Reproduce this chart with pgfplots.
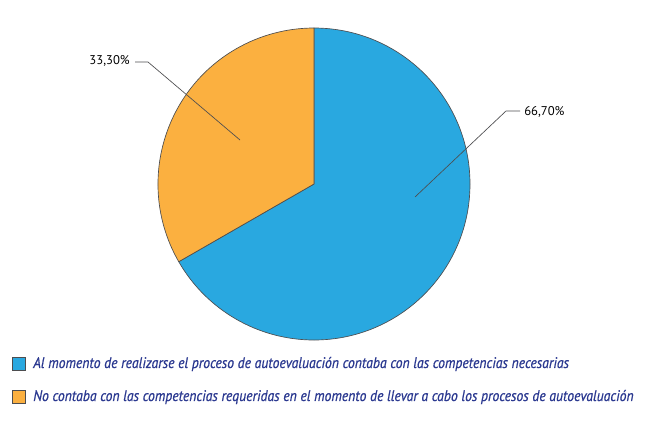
\documentclass[border=0pt]{standalone}
\usepackage{fontspec}
\setmainfont{PT Sans}
\newfontfamily\legfont[FakeStretch=0.893, FakeBold=0.7]{PT Sans}
\usepackage{pgfplots}
\pgfplotsset{compat=1.18}
\definecolor{pieblue}{HTML}{29A8E0}
\definecolor{pieorange}{HTML}{FBB040}
\definecolor{legnavy}{HTML}{2B3990}
\definecolor{edge}{HTML}{4D4D4F}

% slice values (percent)
\def\valA{66.7}
\def\valB{33.3}

\begin{document}
\begin{tikzpicture}[x=0.75pt,y=0.75pt]
\useasboundingbox (0,0) rectangle (653,430);
\coordinate (pc) at (314,246);
\begin{axis}[
  hide axis,
  scale only axis,
  width=234pt, height=234pt,
  xmin=-1, xmax=1, ymin=-1, ymax=1,
  anchor=center, at={(pc)},
  clip=false,
]
\pgfmathsetmacro{\aEnd}{90-3.6*\valA}
\pgfmathsetmacro{\bEnd}{\aEnd-3.6*\valB}
\filldraw[fill=pieblue, draw=edge, line width=0.5pt]
  (axis cs:0,0) -- (axis cs:0,1) arc[start angle=90, end angle=\aEnd, radius=117pt] -- cycle;
\filldraw[fill=pieorange, draw=edge, line width=0.5pt]
  (axis cs:0,0) -- (axis cs:{cos(\aEnd)},{sin(\aEnd)}) arc[start angle=\aEnd, end angle=\bEnd, radius=117pt] -- cycle;
\end{axis}

% leader lines and labels
\draw[edge, line width=0.5pt] (415,233) -- (506,319) -- (520,319);
\node[anchor=west, font=\fontsize{9.5}{11}\selectfont, inner sep=0pt] at (524,318) {66,70\%};
\draw[edge, line width=0.5pt] (240,290) -- (148,368) -- (135,368);
\node[anchor=east, font=\fontsize{9.5}{11}\selectfont, inner sep=0pt] at (130,369) {33,30\%};

% legend
\filldraw[fill=pieblue, draw=edge, line width=0.5pt] (12,60) rectangle (25,73);
\node[anchor=west, inner sep=0pt, text=legnavy, font=\legfont\itshape\fontsize{11.5}{13}\selectfont] at (33,66)
  {Al momento de realizarse el proceso de autoevaluación contaba con las competencias necesarias};
\filldraw[fill=pieorange, draw=edge, line width=0.5pt] (12,27) rectangle (25,40);
\node[anchor=west, inner sep=0pt, text=legnavy, font=\legfont\itshape\fontsize{11.5}{13}\selectfont] at (33,33)
  {No contaba con las competencias requeridas en el momento de llevar a cabo los procesos de autoevaluación};
\end{tikzpicture}
\end{document}
